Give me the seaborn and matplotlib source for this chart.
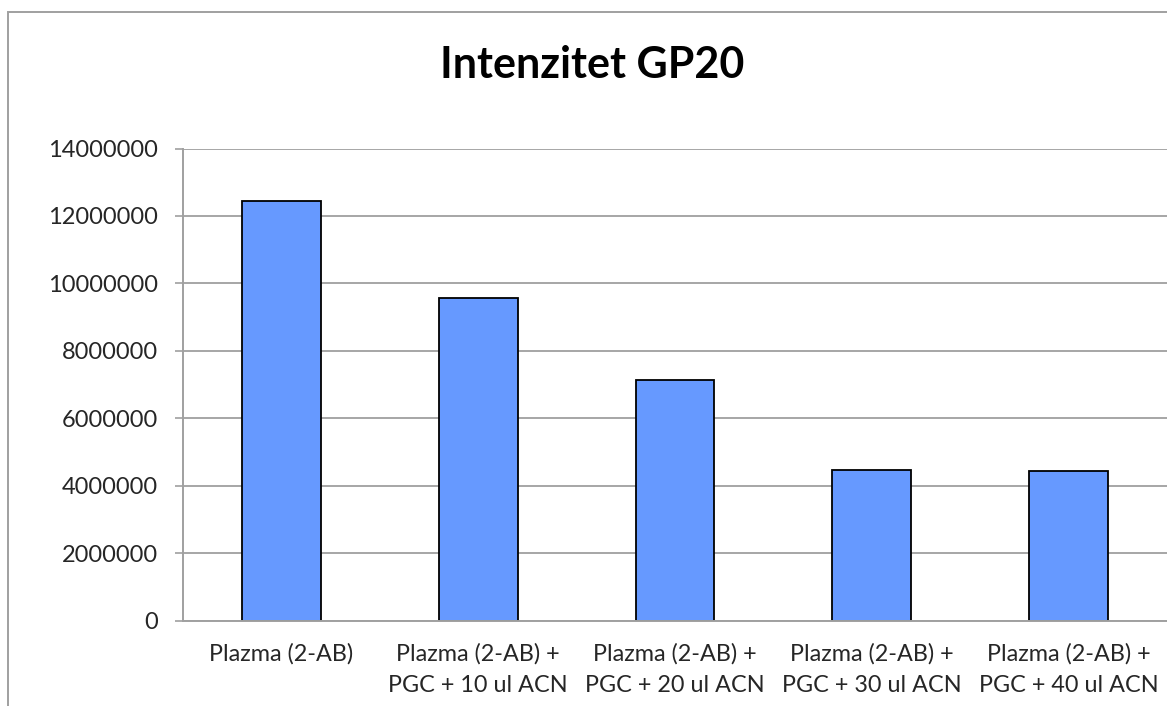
import matplotlib
matplotlib.use("Agg")
import matplotlib.pyplot as plt
from matplotlib.patches import Rectangle
import seaborn as sns
import numpy as np

# data
categories = [
    "Plazma (2-AB)",
    "Plazma (2-AB) +\nPGC + 10 ul ACN",
    "Plazma (2-AB) +\nPGC + 20 ul ACN",
    "Plazma (2-AB) +\nPGC + 30 ul ACN",
    "Plazma (2-AB) +\nPGC + 40 ul ACN",
]
intensity = [12430000, 9575000, 7130000, 4470000, 4440000]
y_ticks = [0, 2000000, 4000000, 6000000, 8000000, 10000000, 12000000, 14000000]

sns.set_style("white")
plt.rcParams['font.family'] = ['Lato', 'DejaVu Sans']

fig = plt.figure(figsize=(11.67, 7.06), dpi=100)
ax = fig.add_axes([183 / 1167, 1 - 620.5 / 706, (1167 - 183) / 1167, (620.5 - 148.5) / 706])

sns.barplot(x=categories, y=intensity, color="#6699FF", edgecolor="black",
            linewidth=1.3, width=0.4, saturation=1, ax=ax)

ax.set_xlim(-0.5, 4.5)
ax.set_ylim(0, 14000000)
ax.set_yticks(y_ticks)
ax.set_yticklabels([str(v) for v in y_ticks], fontsize=17)
ax.set_xticks(range(len(categories)))
ax.set_xticklabels(categories, fontsize=16.8, linespacing=1.65)
ax.set_xticks(np.arange(-0.5, 5, 1), minor=True)
ax.tick_params(axis="x", which="major", length=0, pad=16)
ax.tick_params(axis="x", which="minor", length=5.8, width=1.2, color="#A0A0A0")
ax.tick_params(axis="y", which="major", left=True, length=5.8, width=1.2,
               color="#A0A0A0", pad=12.5)

ax.grid(axis="y", color="#A6A6A6", linewidth=1.4)
ax.set_axisbelow(True)
for s in ["top", "right"]:
    ax.spines[s].set_visible(False)
for s in ["left", "bottom"]:
    ax.spines[s].set_color("#A0A0A0")
    ax.spines[s].set_linewidth(1.4)

# outer chart frame (cut off at right and bottom)
fig.patches.append(Rectangle((8 / 1167, -0.1), 1.2, 1 - 12 / 706 + 0.1,
                             transform=fig.transFigure, fill=False,
                             edgecolor="#A0A0A0", linewidth=1.4))

fig.text(592.5 / 1167, 1 - 78 / 706, "Intenzitet GP20", ha="center", va="baseline",
         fontsize=31, fontweight="bold", color="black")

fig.savefig("out.png", dpi=100)
